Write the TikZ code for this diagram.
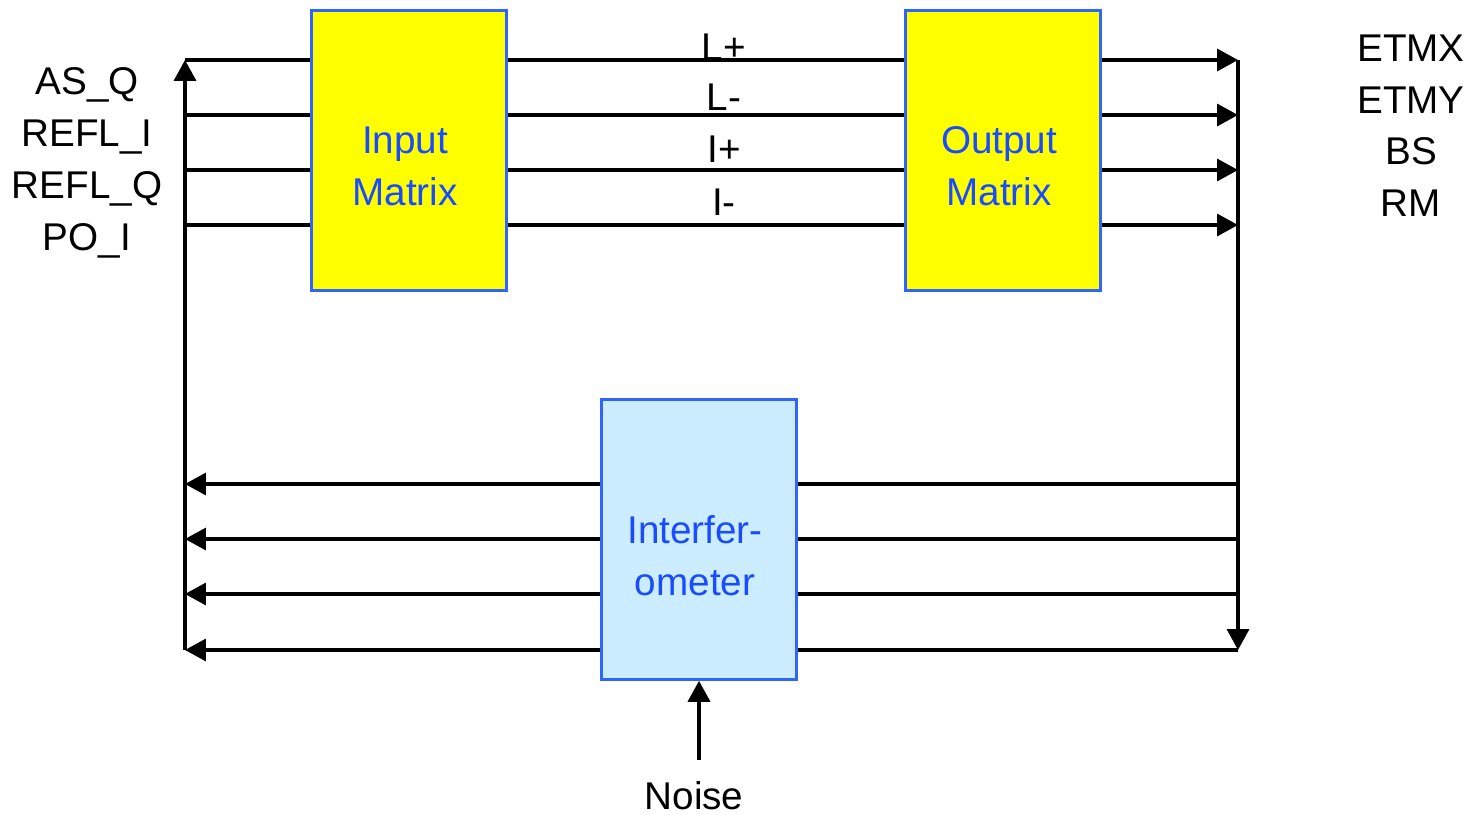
\documentclass[tikz,border=0pt]{standalone}
\usepackage{fontspec}
\setmainfont{Liberation Sans}
\usetikzlibrary{arrows.meta,positioning}
\definecolor{boxyellow}{HTML}{FFFF00}
\definecolor{boxblue}{HTML}{CCECFF}
\definecolor{edgeblue}{HTML}{2F64FF}
\definecolor{textblue}{HTML}{1A4CFF}

\tikzset{
  block/.style={draw=edgeblue,line width=1.5pt,minimum width=3.9cm,minimum height=5.6cm},
  blocktext/.style={align=center,text=textblue,inner sep=0pt,font=\fontsize{22}{29.6}\selectfont},
  sig/.style={line width=2pt},
  lbl/.style={font=\fontsize{22}{26}\selectfont,inner sep=0pt,anchor=base}
}

\begin{document}
\begin{tikzpicture}[x=0.02cm,y=-0.02cm,>={Triangle[length=0.42cm,width=0.44cm]}]
  \useasboundingbox (0,0) rectangle (1469,814);
  % blocks
  \node[block,fill=boxyellow] (inmat) at (409,150.5) {};
  \node[block,fill=boxyellow] (outmat) at (1003,150.5) {};
  \node[block,fill=boxblue] (ifo) at (699,539.5) {};
  \node[blocktext] (inmattxt) at ([xshift=-0.08cm,yshift=-0.32cm]inmat.center) {Input\\Matrix};
  \node[blocktext] (outmattxt) at ([xshift=-0.08cm,yshift=-0.32cm]outmat.center) {Output\\Matrix};
  \node[blocktext] (ifotxt) at ([xshift=-0.08cm,yshift=-0.32cm]ifo.center) {Interfer-\\ometer};
  % bus corners
  \coordinate (l1) at (185,60);  \coordinate (r1) at (1238,60);
  \coordinate (l2) at (185,115); \coordinate (r2) at (1238,115);
  \coordinate (l3) at (185,170); \coordinate (r3) at (1238,170);
  \coordinate (l4) at (185,225); \coordinate (r4) at (1238,225);
  \coordinate (lb1) at (185,484); \coordinate (rb1) at (1238,484);
  \coordinate (lb2) at (185,539); \coordinate (rb2) at (1238,539);
  \coordinate (lb3) at (185,594); \coordinate (rb3) at (1238,594);
  \coordinate (lb4) at (185,650); \coordinate (rb4) at (1238,650);
  \coordinate (nz) at (699,760);
  % labels
  \node[lbl] (lp) at (724,61) {L+};
  \node[lbl] (lm) at (724,111) {L-};
  \node[lbl] (ip) at (724,163) {I+};
  \node[lbl] (im) at (724,215) {I-};
  \node[lbl] (asq) at (87,95) {AS\_Q};
  \node[lbl] (refli) at (87,147) {REFL\_I};
  \node[lbl] (reflq) at (87,198) {REFL\_Q};
  \node[lbl] (poi) at (87,250) {PO\_I};
  \node[lbl] (etmx) at (1411,62) {ETMX};
  \node[lbl] (etmy) at (1411,114) {ETMY};
  \node[lbl] (bs) at (1411,165) {BS};
  \node[lbl] (rm) at (1411,216) {RM};
  \node[lbl] (noise) at (694,809) {Noise};
  % top signal lines
  \draw[sig] (l1) -- (inmat.west |- l1);
  \draw[sig] (l2) -- (inmat.west |- l2);
  \draw[sig] (l3) -- (inmat.west |- l3);
  \draw[sig] (l4) -- (inmat.west |- l4);
  \draw[sig] (inmat.east |- l1) -- (outmat.west |- l1);
  \draw[sig] (inmat.east |- l2) -- (outmat.west |- l2);
  \draw[sig] (inmat.east |- l3) -- (outmat.west |- l3);
  \draw[sig] (inmat.east |- l4) -- (outmat.west |- l4);
  \draw[sig,->] (outmat.east |- r1) -- (r1);
  \draw[sig,->] (outmat.east |- r2) -- (r2);
  \draw[sig,->] (outmat.east |- r3) -- (r3);
  \draw[sig,->] (outmat.east |- r4) -- (r4);
  % return paths
  \draw[sig,->] (r1) -- (rb4);
  \draw[sig,->] (lb4) -- (l1);
  \draw[sig] (rb1) -- (ifo.east |- rb1);
  \draw[sig] (rb2) -- (ifo.east |- rb2);
  \draw[sig] (rb3) -- (ifo.east |- rb3);
  \draw[sig] (rb4) -- (ifo.east |- rb4);
  \draw[sig,->] (ifo.west |- lb1) -- (lb1);
  \draw[sig,->] (ifo.west |- lb2) -- (lb2);
  \draw[sig,->] (ifo.west |- lb3) -- (lb3);
  \draw[sig,->] (ifo.west |- lb4) -- (lb4);
  \draw[sig,->] (nz) -- (ifo.south);
\end{tikzpicture}
\end{document}
